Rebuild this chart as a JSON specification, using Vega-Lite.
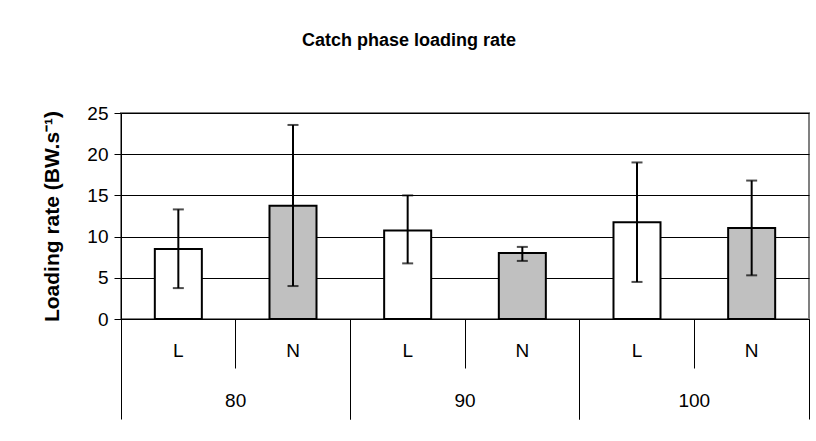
{
  "$schema": "https://vega.github.io/schema/vega-lite/v6.json",
  "width": 688,
  "height": 206,
  "autosize": {"type": "none"},
  "padding": {"left": 121, "top": 113, "right": 7, "bottom": 122},
  "background": "white",
  "config": {
    "view": {"stroke": "#808080", "strokeWidth": 2},
    "font": "Liberation Sans"
  },
  "title": {
    "text": "Catch phase loading rate",
    "font": "Liberation Sans",
    "fontSize": 18,
    "fontWeight": "bold",
    "color": "black",
    "anchor": "middle",
    "dx": -56,
    "offset": 54
  },
  "data": {
    "values": [
      {"dose": "80", "cond": "L", "bar": "80 L", "mean": 8.5, "lo": 3.75, "hi": 13.3},
      {"dose": "80", "cond": "N", "bar": "80 N", "mean": 13.75, "lo": 4.0, "hi": 23.55},
      {"dose": "90", "cond": "L", "bar": "90 L", "mean": 10.75, "lo": 6.75, "hi": 15.0},
      {"dose": "90", "cond": "N", "bar": "90 N", "mean": 8.0, "lo": 7.05, "hi": 8.75},
      {"dose": "100", "cond": "L", "bar": "100 L", "mean": 11.75, "lo": 4.5, "hi": 19.0},
      {"dose": "100", "cond": "N", "bar": "100 N", "mean": 11.05, "lo": 5.3, "hi": 16.8}
    ]
  },
  "resolve": {"scale": {"x": "independent"}, "axis": {"x": "independent"}},
  "layer": [
    {
      "encoding": {
        "x": {
          "field": "bar",
          "type": "nominal",
          "sort": null,
          "scale": {"paddingInner": 0, "paddingOuter": 0},
          "axis": {
            "orient": "bottom",
            "title": null,
            "domain": true,
            "domainColor": "black",
            "domainWidth": 1,
            "ticks": true,
            "tickSize": 49,
            "tickColor": "black",
            "tickWidth": 1,
            "bandPosition": 0,
            "labelExpr": "split(datum.value, ' ')[1]",
            "labelAngle": 0,
            "labelFont": "Liberation Sans",
            "labelFontSize": 19,
            "labelColor": "black",
            "labelBaseline": "middle",
            "labelPadding": -18,
            "grid": false
          }
        }
      },
      "layer": [
        {
          "mark": {"type": "bar", "width": {"band": 0.41}, "stroke": "black", "strokeWidth": 2},
          "encoding": {
            "y": {
              "field": "mean",
              "type": "quantitative",
              "scale": {"domain": [0, 25], "nice": false},
              "axis": {
                "title": "Loading rate (BW.s⁻¹)",
                "titleFont": "Liberation Sans",
                "titleFontSize": 21,
                "titleFontWeight": "bold",
                "titleColor": "black",
                "titlePadding": 24,
                "values": [0, 5, 10, 15, 20, 25],
                "labelFont": "Liberation Sans",
                "labelFontSize": 19,
                "labelColor": "black",
                "labelPadding": 6,
                "tickSize": 7,
                "tickColor": "black",
                "domainColor": "black",
                "grid": true,
                "gridColor": "black",
                "gridWidth": 1
              }
            },
            "fill": {
              "field": "cond",
              "type": "nominal",
              "scale": {"domain": ["L", "N"], "range": ["white", "#c0c0c0"]},
              "legend": null
            }
          }
        },
        {
          "mark": {"type": "rule", "color": "black", "strokeWidth": 2},
          "encoding": {
            "y": {"field": "lo", "type": "quantitative"},
            "y2": {"field": "hi"}
          }
        },
        {
          "mark": {"type": "tick", "color": "black", "thickness": 2, "size": 11},
          "encoding": {"y": {"field": "lo", "type": "quantitative"}}
        },
        {
          "mark": {"type": "tick", "color": "black", "thickness": 2, "size": 11},
          "encoding": {"y": {"field": "hi", "type": "quantitative"}}
        }
      ]
    },
    {
      "mark": {"type": "rule", "opacity": 0},
      "encoding": {
        "x": {
          "field": "dose",
          "type": "nominal",
          "sort": null,
          "scale": {"paddingInner": 0, "paddingOuter": 0},
          "axis": {
            "orient": "bottom",
            "title": null,
            "domain": false,
            "ticks": true,
            "tickSize": 100,
            "tickColor": "black",
            "tickWidth": 1,
            "bandPosition": 0,
            "labelAngle": 0,
            "labelFont": "Liberation Sans",
            "labelFontSize": 19,
            "labelColor": "black",
            "labelBaseline": "middle",
            "labelPadding": -19,
            "grid": false
          }
        }
      }
    },
    {
      "mark": {"type": "rule", "opacity": 0},
      "encoding": {
        "x": {
          "field": "dose",
          "type": "nominal",
          "sort": null,
          "scale": {"paddingInner": 0, "paddingOuter": 0},
          "axis": {
            "orient": "bottom",
            "title": null,
            "domain": false,
            "ticks": true,
            "tickSize": 100,
            "tickColor": "black",
            "tickWidth": 1,
            "bandPosition": 1,
            "labels": false,
            "grid": false
          }
        }
      }
    }
  ]
}
